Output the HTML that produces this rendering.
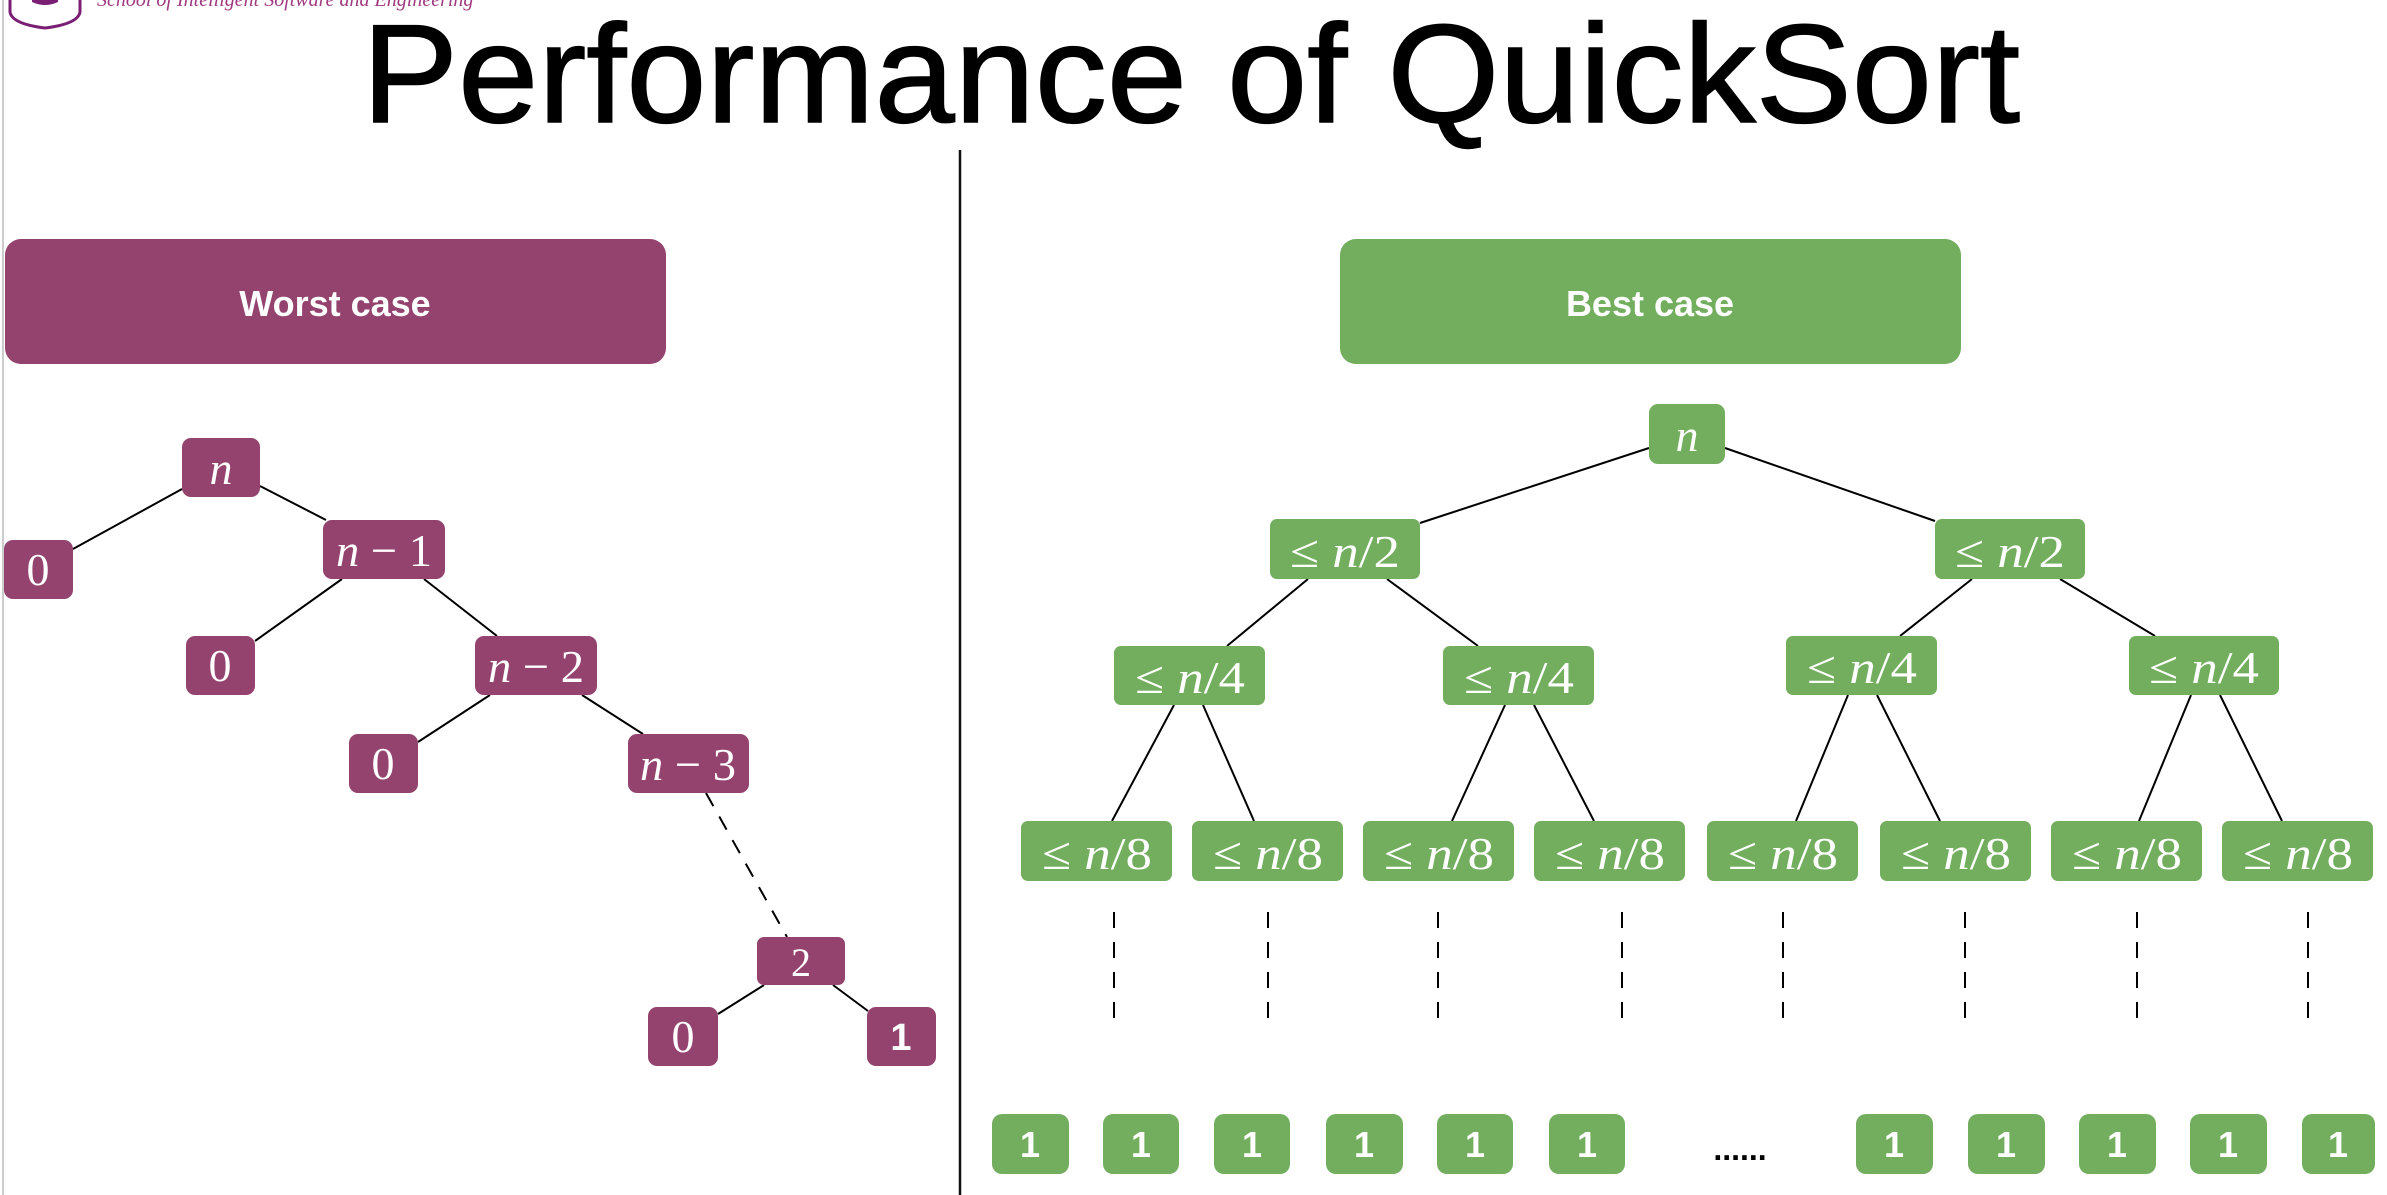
<!DOCTYPE html>
<html><head><meta charset="utf-8"><style>
html,body{margin:0;padding:0;background:#fff;}
svg{display:block;}
</style></head><body>
<svg width="2387" height="1195" viewBox="0 0 2387 1195" xmlns="http://www.w3.org/2000/svg">
<line x1="3" y1="0" x2="3" y2="1195" stroke="#ccc" stroke-width="2"/>
<path d="M10 -10 L10 12 Q12 24 45 28 Q78 24 80 12 L80 -10" fill="none" stroke="#7a1f73" stroke-width="3"/>
<path d="M32 -10 L32 2 Q45 8 58 2 L58 -10 Z" fill="#7a1f73"/>
<text x="97" y="6" font-family="Liberation Serif, serif" font-style="italic" font-size="20" fill="#a0397f">School of Intelligent Software and Engineering</text>
<text x="362" y="122" font-family="Liberation Sans, sans-serif" font-size="140" textLength="1658" lengthAdjust="spacingAndGlyphs" fill="#000" stroke="#000" stroke-width="1.5">Performance of QuickSort</text>
<line x1="960" y1="150" x2="960" y2="1195" stroke="#111" stroke-width="2.5"/>
<rect x="5" y="239" width="661" height="125" rx="16" fill="#94436e"/>
<text x="335" y="316" text-anchor="middle" font-family="Liberation Sans, sans-serif" font-weight="bold" font-size="36" fill="#fff">Worst case</text>
<rect x="1340" y="239" width="621" height="125" rx="16" fill="#72ae5e"/>
<text x="1650" y="316" text-anchor="middle" font-family="Liberation Sans, sans-serif" font-weight="bold" font-size="36" fill="#fff">Best case</text>

<g stroke="#000" stroke-width="2">
<line x1="182" y1="489" x2="73" y2="549"/>
<line x1="260" y1="486" x2="326" y2="520"/>
<line x1="342" y1="579" x2="255" y2="641"/>
<line x1="424" y1="579" x2="497" y2="636"/>
<line x1="490" y1="695" x2="418" y2="742"/>
<line x1="582" y1="695" x2="643" y2="734"/>
<line x1="706" y1="793" x2="787" y2="937" stroke-dasharray="15,12"/>
<line x1="764" y1="985" x2="718" y2="1014"/>
<line x1="833" y1="985" x2="868" y2="1011"/>
</g>
<g fill="#94436e">
<rect x="182" y="438" width="78" height="59" rx="9"/>
<rect x="4" y="540" width="69" height="59" rx="9"/>
<rect x="323" y="520" width="122" height="59" rx="9"/>
<rect x="186" y="636" width="69" height="59" rx="9"/>
<rect x="475" y="636" width="122" height="59" rx="9"/>
<rect x="349" y="734" width="69" height="59" rx="9"/>
<rect x="628" y="734" width="121" height="59" rx="9"/>
<rect x="757" y="937" width="88" height="48" rx="7"/>
<rect x="648" y="1007" width="70" height="59" rx="9"/>
<rect x="867" y="1007" width="69" height="59" rx="9"/>
</g>
<g font-family="Liberation Serif, serif" font-size="46" fill="#fff" text-anchor="middle">
<text x="221" y="484" font-style="italic">n</text>
<text x="38" y="585">0</text>
<text x="384" y="566" textLength="96" lengthAdjust="spacingAndGlyphs"><tspan font-style="italic">n</tspan> − 1</text>
<text x="220" y="681">0</text>
<text x="536" y="682" textLength="96" lengthAdjust="spacingAndGlyphs"><tspan font-style="italic">n</tspan> − 2</text>
<text x="383" y="779">0</text>
<text x="688" y="780" textLength="96" lengthAdjust="spacingAndGlyphs"><tspan font-style="italic">n</tspan> − 3</text>
<text x="801" y="976" font-size="40">2</text>
<text x="683" y="1052">0</text>
</g>
<text x="901" y="1050" text-anchor="middle" font-family="Liberation Sans, sans-serif" font-weight="bold" font-size="38" fill="#fff">1</text>

<g stroke="#000" stroke-width="2">
<line x1="1649" y1="448" x2="1420" y2="523"/>
<line x1="1725" y1="448" x2="1935" y2="521"/>
<line x1="1308" y1="579" x2="1227" y2="646"/>
<line x1="1387" y1="579" x2="1478" y2="646"/>
<line x1="1972" y1="579" x2="1900" y2="636"/>
<line x1="2060" y1="579" x2="2155" y2="636"/>
<line x1="1174" y1="705" x2="1112" y2="821"/>
<line x1="1203" y1="705" x2="1254" y2="821"/>
<line x1="1505" y1="705" x2="1452" y2="821"/>
<line x1="1534" y1="705" x2="1594" y2="821"/>
<line x1="1848" y1="695" x2="1796" y2="821"/>
<line x1="1877" y1="695" x2="1940" y2="821"/>
<line x1="2191" y1="695" x2="2139" y2="821"/>
<line x1="2220" y1="695" x2="2282" y2="821"/>
</g>
<g stroke="#000" stroke-width="2" stroke-dasharray="16,14">
<line x1="1114" y1="912" x2="1114" y2="1018"/>
<line x1="1268" y1="912" x2="1268" y2="1018"/>
<line x1="1438" y1="912" x2="1438" y2="1018"/>
<line x1="1622" y1="912" x2="1622" y2="1018"/>
<line x1="1783" y1="912" x2="1783" y2="1018"/>
<line x1="1965" y1="912" x2="1965" y2="1018"/>
<line x1="2137" y1="912" x2="2137" y2="1018"/>
<line x1="2308" y1="912" x2="2308" y2="1018"/>
</g>
<g fill="#72ae5e">
<rect x="1649" y="404" width="76" height="60" rx="9"/>
<rect x="1270" y="519" width="150" height="60" rx="7"/>
<rect x="1935" y="519" width="150" height="60" rx="7"/>
<rect x="1114" y="646" width="151" height="59" rx="7"/>
<rect x="1443" y="646" width="151" height="59" rx="7"/>
<rect x="1786" y="636" width="151" height="59" rx="7"/>
<rect x="2129" y="636" width="150" height="59" rx="7"/>
<rect x="1021" y="821" width="151" height="60" rx="7"/>
<rect x="1192" y="821" width="151" height="60" rx="7"/>
<rect x="1363" y="821" width="151" height="60" rx="7"/>
<rect x="1534" y="821" width="151" height="60" rx="7"/>
<rect x="1707" y="821" width="151" height="60" rx="7"/>
<rect x="1880" y="821" width="151" height="60" rx="7"/>
<rect x="2051" y="821" width="151" height="60" rx="7"/>
<rect x="2222" y="821" width="151" height="60" rx="7"/>
<rect x="992" y="1114" width="77" height="60" rx="10"/>
<rect x="1103" y="1114" width="76" height="60" rx="10"/>
<rect x="1214" y="1114" width="76" height="60" rx="10"/>
<rect x="1326" y="1114" width="77" height="60" rx="10"/>
<rect x="1437" y="1114" width="76" height="60" rx="10"/>
<rect x="1549" y="1114" width="76" height="60" rx="10"/>
<rect x="1856" y="1114" width="77" height="60" rx="10"/>
<rect x="1968" y="1114" width="77" height="60" rx="10"/>
<rect x="2079" y="1114" width="77" height="60" rx="10"/>
<rect x="2190" y="1114" width="77" height="60" rx="10"/>
<rect x="2302" y="1114" width="73" height="60" rx="10"/>
</g>
<g font-family="Liberation Serif, serif" font-size="46" fill="#fff" text-anchor="middle">
<text x="1687" y="451" font-style="italic">n</text>
<text x="1345" y="567" textLength="110" lengthAdjust="spacingAndGlyphs">≤ <tspan font-style="italic">n</tspan>/2</text>
<text x="2010" y="567" textLength="110" lengthAdjust="spacingAndGlyphs">≤ <tspan font-style="italic">n</tspan>/2</text>
<text x="1190" y="693" textLength="110" lengthAdjust="spacingAndGlyphs">≤ <tspan font-style="italic">n</tspan>/4</text>
<text x="1519" y="693" textLength="110" lengthAdjust="spacingAndGlyphs">≤ <tspan font-style="italic">n</tspan>/4</text>
<text x="1862" y="683" textLength="110" lengthAdjust="spacingAndGlyphs">≤ <tspan font-style="italic">n</tspan>/4</text>
<text x="2204" y="683" textLength="110" lengthAdjust="spacingAndGlyphs">≤ <tspan font-style="italic">n</tspan>/4</text>
<text x="1097" y="869" textLength="110" lengthAdjust="spacingAndGlyphs">≤ <tspan font-style="italic">n</tspan>/8</text>
<text x="1268" y="869" textLength="110" lengthAdjust="spacingAndGlyphs">≤ <tspan font-style="italic">n</tspan>/8</text>
<text x="1439" y="869" textLength="110" lengthAdjust="spacingAndGlyphs">≤ <tspan font-style="italic">n</tspan>/8</text>
<text x="1610" y="869" textLength="110" lengthAdjust="spacingAndGlyphs">≤ <tspan font-style="italic">n</tspan>/8</text>
<text x="1783" y="869" textLength="110" lengthAdjust="spacingAndGlyphs">≤ <tspan font-style="italic">n</tspan>/8</text>
<text x="1956" y="869" textLength="110" lengthAdjust="spacingAndGlyphs">≤ <tspan font-style="italic">n</tspan>/8</text>
<text x="2127" y="869" textLength="110" lengthAdjust="spacingAndGlyphs">≤ <tspan font-style="italic">n</tspan>/8</text>
<text x="2298" y="869" textLength="110" lengthAdjust="spacingAndGlyphs">≤ <tspan font-style="italic">n</tspan>/8</text>
</g>
<g font-family="Liberation Sans, sans-serif" font-weight="bold" font-size="36" fill="#fff" text-anchor="middle">
<text x="1030" y="1157">1</text>
<text x="1141" y="1157">1</text>
<text x="1252" y="1157">1</text>
<text x="1364" y="1157">1</text>
<text x="1475" y="1157">1</text>
<text x="1587" y="1157">1</text>
<text x="1894" y="1157">1</text>
<text x="2006" y="1157">1</text>
<text x="2117" y="1157">1</text>
<text x="2228" y="1157">1</text>
<text x="2338" y="1157">1</text>
</g>
<text x="1740" y="1160" text-anchor="middle" font-family="Liberation Sans, sans-serif" font-weight="bold" font-size="32" fill="#000">......</text>
</svg>
</body></html>
